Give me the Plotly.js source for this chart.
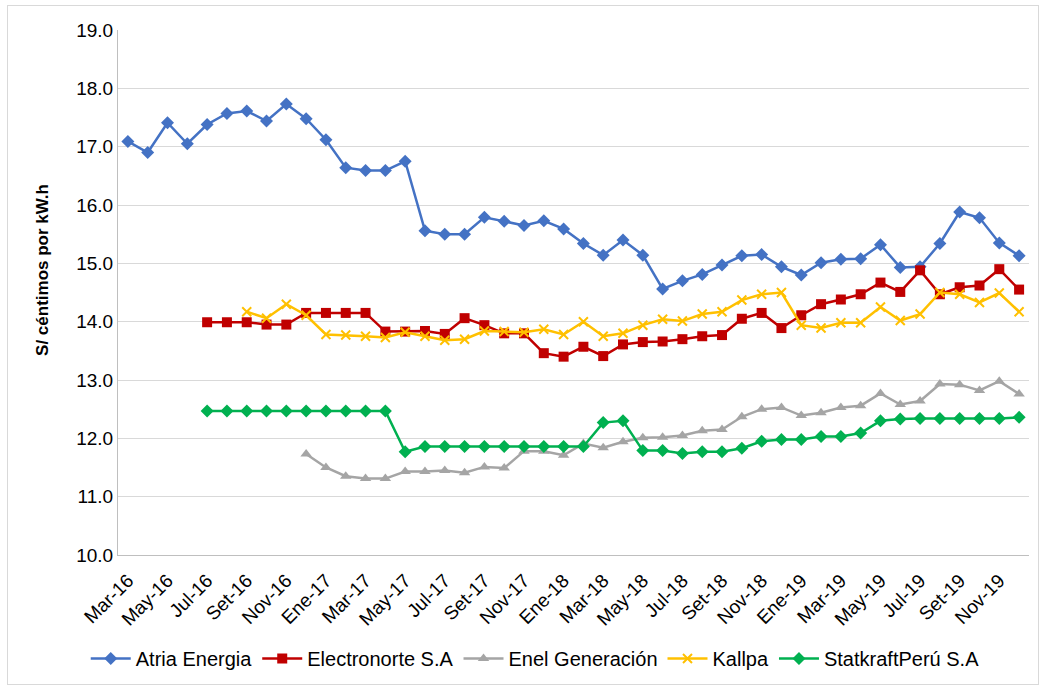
<!DOCTYPE html>
<html><head><meta charset="utf-8">
<script src="https://cdn.plot.ly/plotly-3.0.1.min.js"></script>
<style>html,body{margin:0;padding:0;background:#fff}#wrap{position:relative;width:1046px;height:690px}#frame{position:absolute;left:7px;top:5px;width:1032px;height:680px;box-sizing:border-box;border:1px solid #d9d9d9;pointer-events:none}</style>
</head><body><div id="wrap"><div id="chart"></div><div id="frame"></div></div>
<script>
const months = ["Mar-16","Abr-16","May-16","Jun-16","Jul-16","Ago-16","Set-16","Oct-16","Nov-16","Dic-16",
"Ene-17","Feb-17","Mar-17","Abr-17","May-17","Jun-17","Jul-17","Ago-17","Set-17","Oct-17","Nov-17","Dic-17",
"Ene-18","Feb-18","Mar-18","Abr-18","May-18","Jun-18","Jul-18","Ago-18","Set-18","Oct-18","Nov-18","Dic-18",
"Ene-19","Feb-19","Mar-19","Abr-19","May-19","Jun-19","Jul-19","Ago-19","Set-19","Oct-19","Nov-19","Dic-19"];
const tickLabels = ["Mar-16","May-16","Jul-16","Set-16","Nov-16","Ene-17","Mar-17","May-17","Jul-17","Set-17","Nov-17",
"Ene-18","Mar-18","May-18","Jul-18","Set-18","Nov-18","Ene-19","Mar-19","May-19","Jul-19","Set-19","Nov-19"];
const yTitle = "S/ céntimos por kW.h";
const atria = [17.09,16.90,17.41,17.05,17.38,17.57,17.61,17.44,17.73,17.48,
17.12,16.64,16.59,16.59,16.75,15.56,15.50,15.50,15.79,15.72,15.65,15.73,
15.59,15.34,15.14,15.40,15.14,14.56,14.70,14.81,14.97,15.13,15.15,14.94,
14.80,15.01,15.07,15.08,15.32,14.93,14.94,15.34,15.88,15.78,15.35,15.13];
const electronorte = [null,null,null,null,13.99,13.99,13.99,13.95,13.95,14.15,
14.15,14.15,14.15,13.83,13.83,13.84,13.79,14.06,13.94,13.80,13.80,13.46,
13.40,13.57,13.41,13.61,13.65,13.66,13.70,13.75,13.77,14.05,14.15,13.89,
14.11,14.30,14.38,14.47,14.67,14.51,14.88,14.47,14.59,14.62,14.90,14.55];
const enel = [null,null,null,null,null,null,null,null,null,11.73,
11.50,11.35,11.31,11.31,11.43,11.43,11.45,11.41,11.51,11.49,11.78,11.78,
11.71,11.91,11.84,11.94,12.01,12.02,12.05,12.13,12.15,12.37,12.50,12.53,
12.39,12.44,12.53,12.56,12.77,12.58,12.64,12.93,12.92,12.82,12.98,12.76];
const kallpa = [null,null,null,null,null,null,14.17,14.06,14.30,14.11,
13.78,13.77,13.75,13.73,13.82,13.75,13.68,13.70,13.84,13.83,13.82,13.87,
13.78,14.00,13.75,13.80,13.94,14.04,14.01,14.13,14.17,14.37,14.47,14.50,
13.94,13.89,13.98,13.98,14.25,14.02,14.13,14.50,14.47,14.33,14.49,14.17];
const statkraft = [null,null,null,null,12.47,12.47,12.47,12.47,12.47,12.47,
12.47,12.47,12.47,12.47,11.77,11.86,11.86,11.86,11.86,11.86,11.86,11.86,
11.86,11.86,12.27,12.30,11.79,11.79,11.74,11.77,11.77,11.83,11.95,11.98,
11.98,12.03,12.03,12.09,12.30,12.33,12.34,12.34,12.34,12.34,12.34,12.36];

const mk = (name, y, color, symbol, size) => ({
  type:'scatter', mode:'lines+markers', name, x: months, y,
  line:{color, width:2.5}, marker:{color, symbol, size, line:{width: symbol==='x-thin'?2:0, color}},
  connectgaps:false
});
const data = [
  mk('Atria Energia', atria, '#4472C4', 'diamond', 10),
  mk('Electronorte S.A', electronorte, '#C00000', 'square', 10),
  mk('Enel Generación', enel, '#A5A5A5', 'triangle-up', 10),
  mk('Kallpa', kallpa, '#FFC000', 'x-thin', 9),
  mk('StatkraftPerú S.A', statkraft, '#00B050', 'diamond', 10)
];
const layout = {
  width:1046, height:690,
  margin:{l:118, r:17, t:30, b:133},
  paper_bgcolor:'#fff', plot_bgcolor:'#fff',
  font:{family:'Liberation Sans, Arial, sans-serif', color:'#000'},
  showlegend:true,
  legend:{orientation:'h', x:0.458, xanchor:'center', y:-0.16, yanchor:'top', font:{size:20}, itemwidth:40, tracegroupgap:0},
  xaxis:{type:'category', tickmode:'array', tickvals:tickLabels, ticktext:tickLabels, tickangle:-45,
    tickfont:{size:19}, ticklabelstandoff:6, showgrid:false, showline:true, linecolor:'#bfbfbf', linewidth:1, ticks:'', range:[-0.5,45.5], zeroline:false, automargin:false},
  yaxis:{range:[10,19], dtick:1, tickformat:'.1f', tickfont:{size:19}, showgrid:true, gridcolor:'#d9d9d9', gridwidth:1,
    showline:true, linecolor:'#bfbfbf', linewidth:1, zeroline:false, ticks:'', ticklen:0, automargin:false},
  annotations:[{text:'<b>'+yTitle+'</b>', xref:'paper', yref:'paper', x:-0.0823, y:0.543, xanchor:'center', yanchor:'middle',
    textangle:-90, showarrow:false, font:{size:17}}]
};
Plotly.newPlot('chart', data, layout, {displayModeBar:false, staticPlot:true});
</script></body></html>
